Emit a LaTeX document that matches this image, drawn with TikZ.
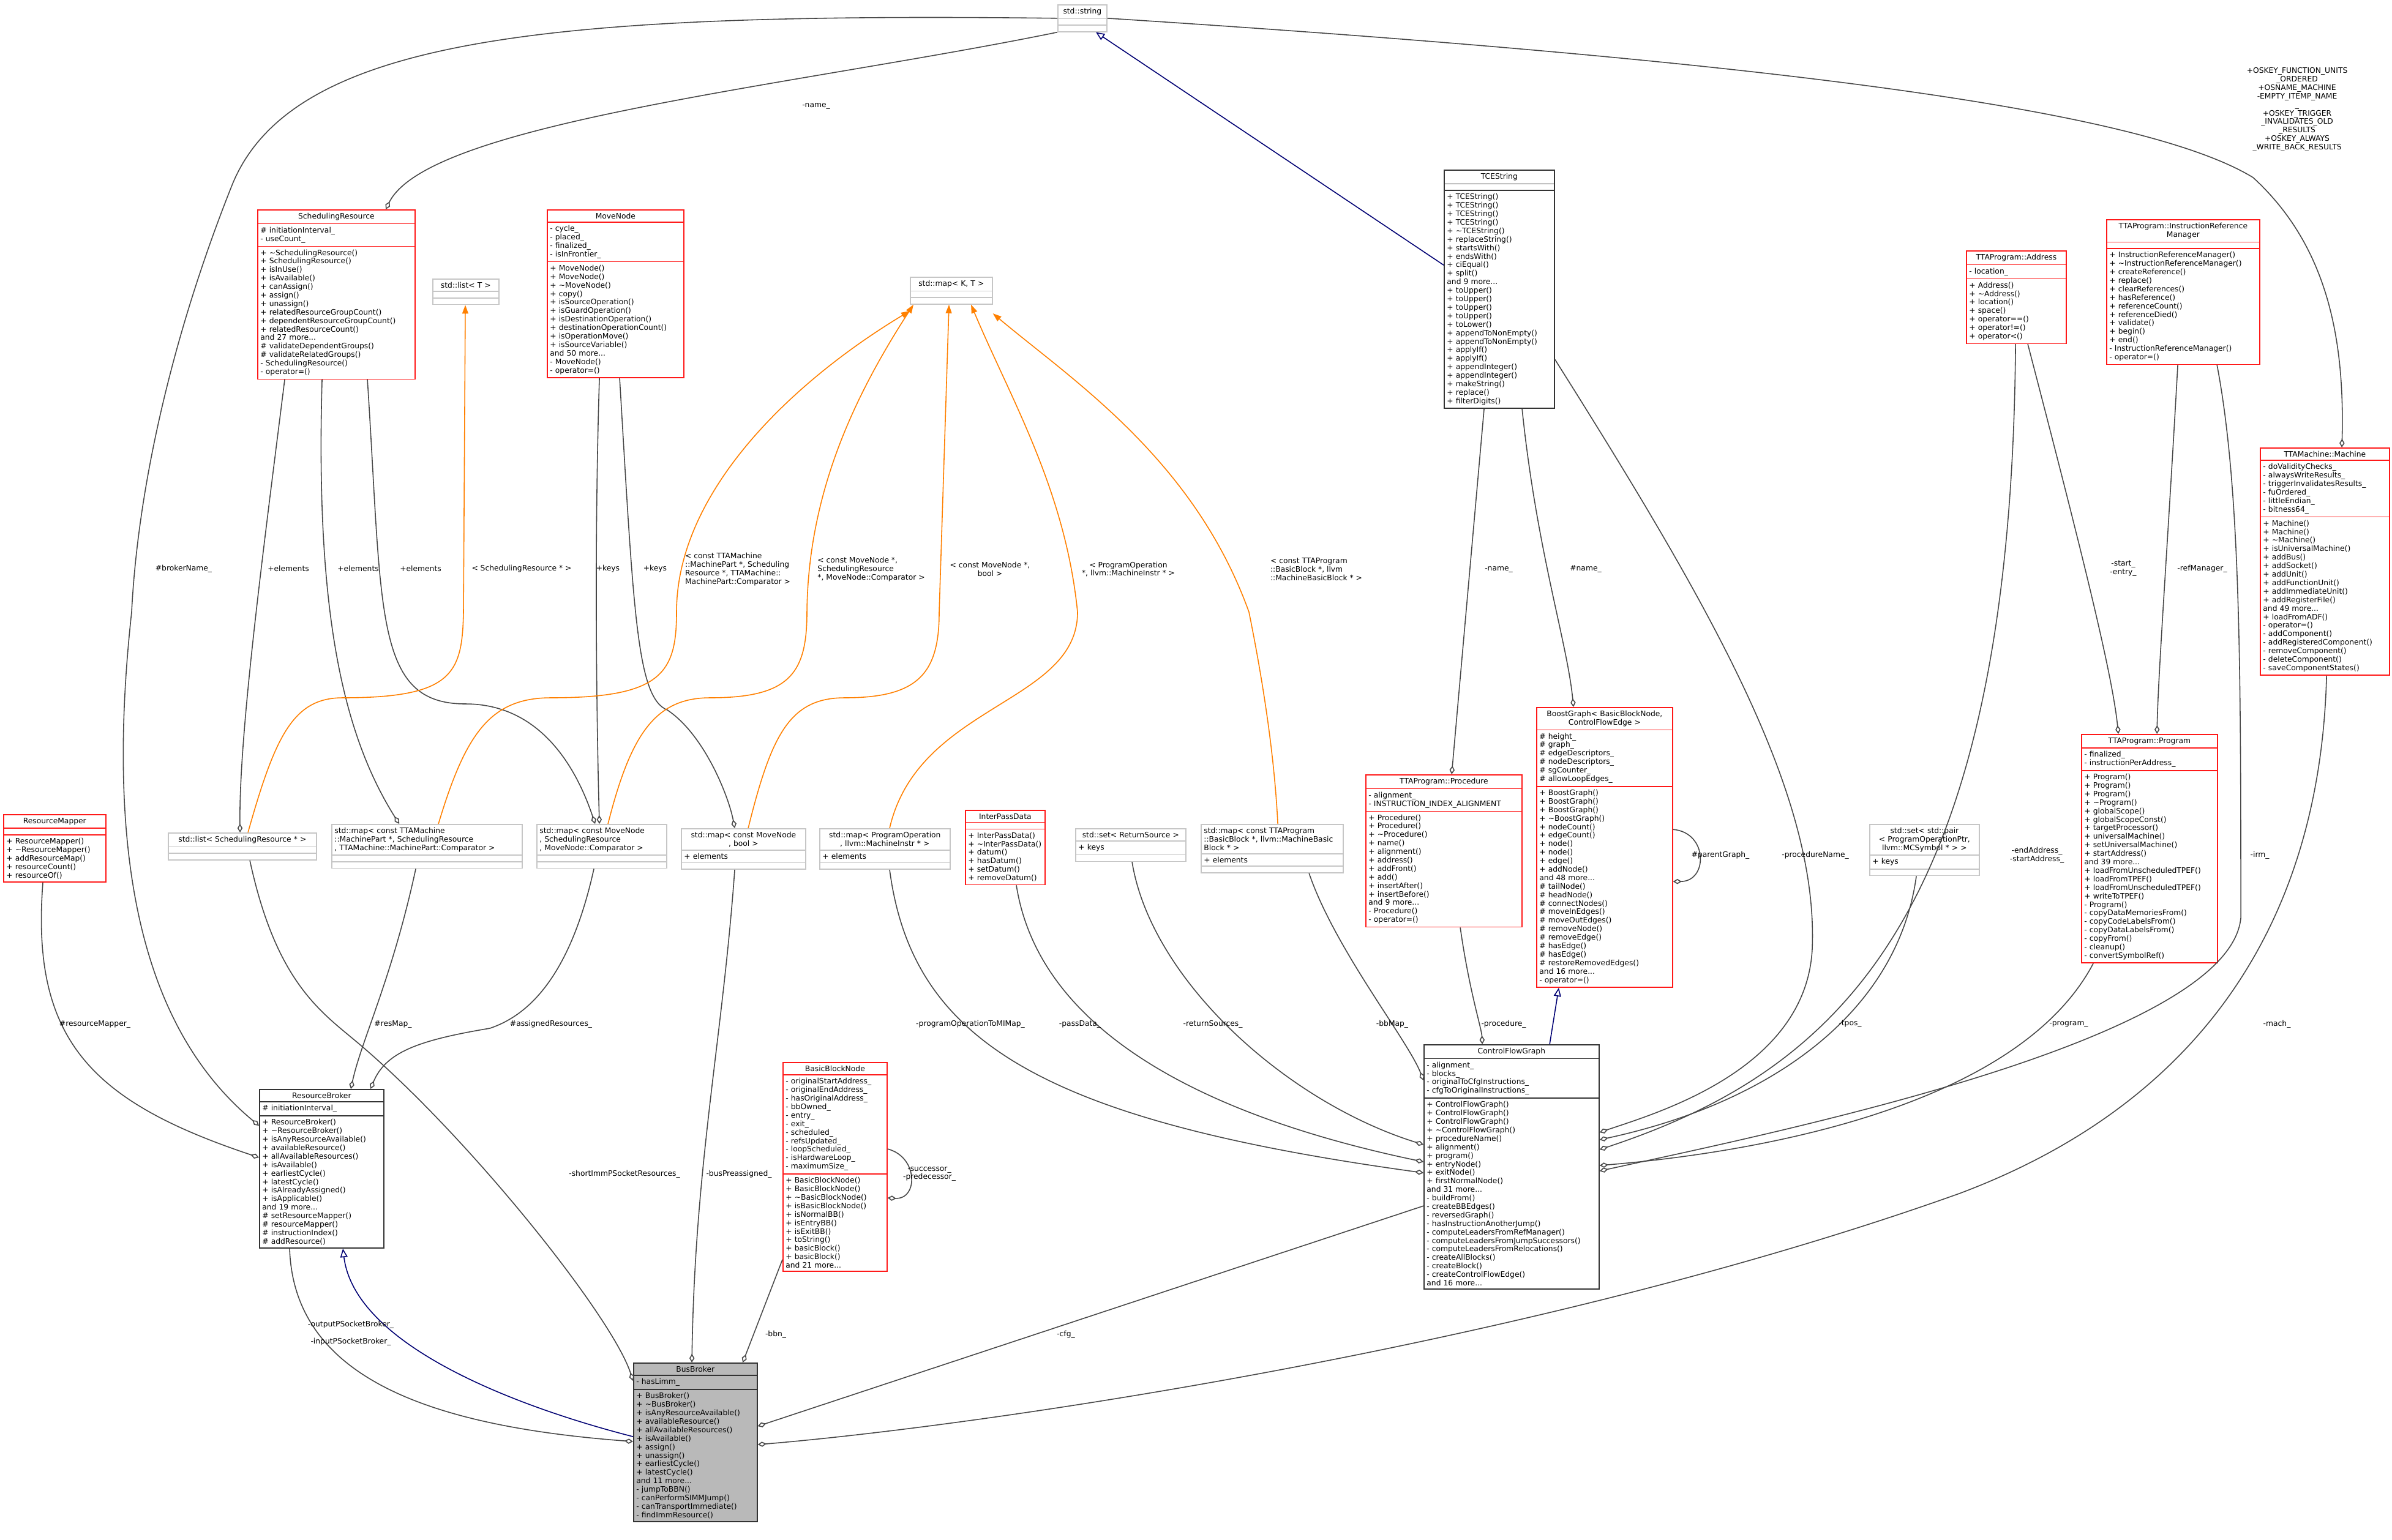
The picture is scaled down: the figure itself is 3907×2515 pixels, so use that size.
\documentclass[tikz,border=0pt]{standalone}
\usepackage{fontspec}
\setmainfont{DejaVu Sans}
\usetikzlibrary{arrows.meta}
\usetikzlibrary{shapes.multipart}
\usetikzlibrary{positioning}
\newcommand{\ctitle}[1]{\parbox{\linewidth}{\centering #1}}

\begin{document}
\begin{tikzpicture}[x=0.01cm,y=0.01cm,
  every node/.style={font=\fontsize{3.5}{3.95}\selectfont},
  ClassStyle/.style={rectangle split, rectangle split parts=3, draw, anchor=north west,
    align=left, inner sep=1.3pt,
    rectangle split empty part height=1.1mm, line width=0.45pt},
  RedClass/.style={ClassStyle, draw=red!90},
  GrayClass/.style={ClassStyle, draw=gray!45},
  DarkClass/.style={ClassStyle, draw=black!80},
  MemberEdge/.style={draw=black!72, line width=0.45pt, -{Diamond[open,length=4pt,width=2.4pt]}},
  TemplEdge/.style={draw=orange, line width=0.45pt, -{Triangle[length=4pt,width=2.8pt]}},
  InhEdge/.style={draw=blue!45!black, line width=0.45pt, -{Triangle[open,length=4pt,width=3.4pt]}},
  EdgeLabel/.style={inner sep=0pt, align=center}]

\fill[white] (0,0) rectangle (3907,-2515);
\useasboundingbox (0,0) rectangle (3907,-2515);

% classes, top row
\node[GrayClass, text width=0.8cm-2.6pt] (str) at (1727,-7) {\ctitle{std::string}\nodepart{second}\nodepart{third}};
\node[RedClass, text width=2.57cm-2.6pt] (sres) at (420,-342) {\ctitle{SchedulingResource}
  \nodepart{second}\# initiationInterval\_\\- useCount\_
  \nodepart{third}+ \textasciitilde SchedulingResource()\\+ SchedulingResource()\\+ isInUse()\\+ isAvailable()\\+ canAssign()\\+ assign()\\+ unassign()\\+ relatedResourceGroupCount()\\+ dependentResourceGroupCount()\\+ relatedResourceCount()\\and 27 more...\\\# validateDependentGroups()\\\# validateRelatedGroups()\\- SchedulingResource()\\- operator=()};
\node[GrayClass, text width=1.08cm-2.6pt] (stdlist) at (706,-455) {\ctitle{std::list\textless{} T \textgreater}\nodepart{second}\nodepart{third}};
\node[RedClass, text width=2.23cm-2.6pt] (mnode) at (893,-342) {\ctitle{MoveNode}
  \nodepart{second}- cycle\_\\- placed\_\\- finalized\_\\- isInFrontier\_
  \nodepart{third}+ MoveNode()\\+ MoveNode()\\+ \textasciitilde MoveNode()\\+ copy()\\+ isSourceOperation()\\+ isGuardOperation()\\+ isDestinationOperation()\\+ destinationOperationCount()\\+ isOperationMove()\\+ isSourceVariable()\\and 50 more...\\- MoveNode()\\- operator=()};
\node[GrayClass, text width=1.34cm-2.6pt] (stdmap) at (1486,-452) {\ctitle{std::map\textless{} K, T \textgreater}\nodepart{second}\nodepart{third}};
\node[DarkClass, text width=1.8cm-2.6pt] (tce) at (2358,-277) {\ctitle{TCEString}
  \nodepart{second}
  \nodepart{third}+ TCEString()\\+ TCEString()\\+ TCEString()\\+ TCEString()\\+ \textasciitilde TCEString()\\+ replaceString()\\+ startsWith()\\+ endsWith()\\+ ciEqual()\\+ split()\\and 9 more...\\+ toUpper()\\+ toUpper()\\+ toUpper()\\+ toUpper()\\+ toLower()\\+ appendToNonEmpty()\\+ appendToNonEmpty()\\+ applyIf()\\+ applyIf()\\+ appendInteger()\\+ appendInteger()\\+ makeString()\\+ replace()\\+ filterDigits()};
\node[RedClass, text width=1.63cm-2.6pt] (addr) at (3211,-409) {\ctitle{TTAProgram::Address}
  \nodepart{second}- location\_
  \nodepart{third}+ Address()\\+ \textasciitilde Address()\\+ location()\\+ space()\\+ operator==()\\+ operator!=()\\+ operator\textless()};
\node[RedClass, text width=2.5cm-2.6pt] (irm) at (3440,-358) {\ctitle{TTAProgram::InstructionReference\\Manager}
  \nodepart{second}
  \nodepart{third}+ InstructionReferenceManager()\\+ \textasciitilde InstructionReferenceManager()\\+ createReference()\\+ replace()\\+ clearReferences()\\+ hasReference()\\+ referenceCount()\\+ referenceDied()\\+ validate()\\+ begin()\\+ end()\\- InstructionReferenceManager()\\- operator=()};
\node[RedClass, text width=2.11cm-2.6pt] (mach) at (3691,-731) {\ctitle{TTAMachine::Machine}
  \nodepart{second}- doValidityChecks\_\\- alwaysWriteResults\_\\- triggerInvalidatesResults\_\\- fuOrdered\_\\- littleEndian\_\\- bitness64\_
  \nodepart{third}+ Machine()\\+ Machine()\\+ \textasciitilde Machine()\\+ isUniversalMachine()\\+ addBus()\\+ addSocket()\\+ addUnit()\\+ addFunctionUnit()\\+ addImmediateUnit()\\+ addRegisterFile()\\and 49 more...\\+ loadFromADF()\\- operator=()\\- addComponent()\\- addRegisteredComponent()\\- removeComponent()\\- deleteComponent()\\- saveComponentStates()};

% classes, middle row
\node[RedClass, text width=1.67cm-2.6pt] (rmap) at (5,-1330) {\ctitle{ResourceMapper}
  \nodepart{second}
  \nodepart{third}+ ResourceMapper()\\+ \textasciitilde ResourceMapper()\\+ addResourceMap()\\+ resourceCount()\\+ resourceOf()};
\node[GrayClass, text width=2.42cm-2.6pt] (srlist) at (274,-1360) {\ctitle{std::list\textless{} SchedulingResource * \textgreater}\nodepart{second}\nodepart{third}};
\node[GrayClass, text width=3.11cm-2.6pt] (mpmap) at (541,-1346) {std::map\textless{} const TTAMachine\\::MachinePart *, SchedulingResource\\ *, TTAMachine::MachinePart::Comparator \textgreater\nodepart{second}\nodepart{third}};
\node[GrayClass, text width=2.12cm-2.6pt] (mnsrmap) at (876,-1346) {std::map\textless{} const MoveNode\\ *, SchedulingResource\\ *, MoveNode::Comparator \textgreater\nodepart{second}\nodepart{third}};
\node[GrayClass, text width=2.03cm-2.6pt] (mnbmap) at (1112,-1353) {\ctitle{std::map\textless{} const MoveNode\\ *, bool \textgreater}\nodepart{second}+ elements\nodepart{third}};
\node[GrayClass, text width=2.13cm-2.6pt] (pomap) at (1338,-1353) {\ctitle{std::map\textless{} ProgramOperation\\ *, llvm::MachineInstr * \textgreater}\nodepart{second}+ elements\nodepart{third}};
\node[RedClass, text width=1.3cm-2.6pt] (ipd) at (1576,-1323) {\ctitle{InterPassData}
  \nodepart{second}
  \nodepart{third}+ InterPassData()\\+ \textasciitilde InterPassData()\\+ datum()\\+ hasDatum()\\+ setDatum()\\+ removeDatum()};
\node[GrayClass, text width=1.8cm-2.6pt] (rsset) at (1756,-1353) {\ctitle{std::set\textless{} ReturnSource \textgreater}\nodepart{second}+ keys\nodepart{third}};
\node[GrayClass, text width=2.32cm-2.6pt] (bbmap) at (1961,-1346) {std::map\textless{} const TTAProgram\\::BasicBlock *, llvm::MachineBasic\\Block * \textgreater\nodepart{second}+ elements\nodepart{third}};
\node[RedClass, text width=2.55cm-2.6pt] (proc) at (2230,-1265) {\ctitle{TTAProgram::Procedure}
  \nodepart{second}- alignment\_\\- INSTRUCTION\_INDEX\_ALIGNMENT
  \nodepart{third}+ Procedure()\\+ Procedure()\\+ \textasciitilde Procedure()\\+ name()\\+ alignment()\\+ address()\\+ addFront()\\+ add()\\+ insertAfter()\\+ insertBefore()\\and 9 more...\\- Procedure()\\- operator=()};
\node[RedClass, text width=2.22cm-2.6pt] (bgraph) at (2509,-1155) {\ctitle{BoostGraph\textless{} BasicBlockNode,\\ControlFlowEdge \textgreater}
  \nodepart{second}\# height\_\\\# graph\_\\\# edgeDescriptors\_\\\# nodeDescriptors\_\\\# sgCounter\_\\\# allowLoopEdges\_
  \nodepart{third}+ BoostGraph()\\+ BoostGraph()\\+ BoostGraph()\\+ \textasciitilde BoostGraph()\\+ nodeCount()\\+ edgeCount()\\+ node()\\+ node()\\+ edge()\\+ addNode()\\and 48 more...\\\# tailNode()\\\# headNode()\\\# connectNodes()\\\# moveInEdges()\\\# moveOutEdges()\\\# removeNode()\\\# removeEdge()\\\# hasEdge()\\\# hasEdge()\\\# restoreRemovedEdges()\\and 16 more...\\- operator=()};
\node[GrayClass, text width=1.79cm-2.6pt] (tposset) at (3053,-1346) {\ctitle{std::set\textless{} std::pair\\\textless{} ProgramOperationPtr,\\ llvm::MCSymbol * \textgreater{} \textgreater}\nodepart{second}+ keys\nodepart{third}};
\node[RedClass, text width=2.22cm-2.6pt] (prog) at (3399,-1199) {\ctitle{TTAProgram::Program}
  \nodepart{second}- finalized\_\\- instructionPerAddress\_
  \nodepart{third}+ Program()\\+ Program()\\+ Program()\\+ \textasciitilde Program()\\+ globalScope()\\+ globalScopeConst()\\+ targetProcessor()\\+ universalMachine()\\+ setUniversalMachine()\\+ startAddress()\\and 39 more...\\+ loadFromUnscheduledTPEF()\\+ loadFromTPEF()\\+ loadFromUnscheduledTPEF()\\+ writeToTPEF()\\- Program()\\- copyDataMemoriesFrom()\\- copyCodeLabelsFrom()\\- copyDataLabelsFrom()\\- copyFrom()\\- cleanup()\\- convertSymbolRef()};

% classes, bottom row
\node[DarkClass, text width=2.03cm-2.6pt] (rbroker) at (423,-1779) {\ctitle{ResourceBroker}
  \nodepart{second}\# initiationInterval\_
  \nodepart{third}+ ResourceBroker()\\+ \textasciitilde ResourceBroker()\\+ isAnyResourceAvailable()\\+ availableResource()\\+ allAvailableResources()\\+ isAvailable()\\+ earliestCycle()\\+ latestCycle()\\+ isAlreadyAssigned()\\+ isApplicable()\\and 19 more...\\\# setResourceMapper()\\\# resourceMapper()\\\# instructionIndex()\\\# addResource()};
\node[RedClass, text width=1.7cm-2.6pt] (bbn) at (1278,-1735) {\ctitle{BasicBlockNode}
  \nodepart{second}- originalStartAddress\_\\- originalEndAddress\_\\- hasOriginalAddress\_\\- bbOwned\_\\- entry\_\\- exit\_\\- scheduled\_\\- refsUpdated\_\\- loopScheduled\_\\- isHardwareLoop\_\\- maximumSize\_
  \nodepart{third}+ BasicBlockNode()\\+ BasicBlockNode()\\+ \textasciitilde BasicBlockNode()\\+ isBasicBlockNode()\\+ isNormalBB()\\+ isEntryBB()\\+ isExitBB()\\+ toString()\\+ basicBlock()\\+ basicBlock()\\and 21 more...};
\node[DarkClass, fill=gray!55, text width=2.02cm-2.6pt] (bbroker) at (1034,-2226) {\ctitle{BusBroker}
  \nodepart{second}- hasLimm\_
  \nodepart{third}+ BusBroker()\\+ \textasciitilde BusBroker()\\+ isAnyResourceAvailable()\\+ availableResource()\\+ allAvailableResources()\\+ isAvailable()\\+ assign()\\+ unassign()\\+ earliestCycle()\\+ latestCycle()\\and 11 more...\\- jumpToBBN()\\- canPerformSIMMJump()\\- canTransportImmediate()\\- findImmResource()};
\node[DarkClass, text width=2.86cm-2.6pt] (cfg) at (2325,-1706) {\ctitle{ControlFlowGraph}
  \nodepart{second}- alignment\_\\- blocks\_\\- originalToCfgInstructions\_\\- cfgToOriginalInstructions\_
  \nodepart{third}+ ControlFlowGraph()\\+ ControlFlowGraph()\\+ ControlFlowGraph()\\+ \textasciitilde ControlFlowGraph()\\+ procedureName()\\+ alignment()\\+ program()\\+ entryNode()\\+ exitNode()\\+ firstNormalNode()\\and 31 more...\\- buildFrom()\\- createBBEdges()\\- reversedGraph()\\- hasInstructionAnotherJump()\\- computeLeadersFromRefManager()\\- computeLeadersFromJumpSuccessors()\\- computeLeadersFromRelocations()\\- createAllBlocks()\\- createBlock()\\- createControlFlowEdge()\\and 16 more...};

% edges from std::string
\draw[MemberEdge] (str.west) .. controls (900,-20) and (480,-60) .. (380,-300) .. controls (280,-550) and (225,-800) .. (215,-1000) .. controls (160,-1500) and (280,-1720) .. ([yshift=-0.6cm]rbroker.north west);
\draw[MemberEdge] (str.south west) .. controls (1300,-140) and (700,-200) .. ([xshift=2.1cm]sres.north west);
\draw[InhEdge] ([yshift=-1.56cm]tce.north west) -- ([xshift=0.63cm]str.south west);
\draw[MemberEdge] (str.east) .. controls (2900,-100) and (3500,-180) .. (3680,-290) .. controls (3800,-400) and (3830,-550) .. ([xshift=1.34cm]mach.north west);

% members of the containers
\draw[MemberEdge] ([xshift=0.45cm]sres.south west) .. controls (430,-900) and (390,-1200) .. ([xshift=1.18cm]srlist.north west);
\draw[MemberEdge] ([xshift=1.06cm]sres.south west) .. controls (515,-1000) and (560,-1200) .. ([xshift=1.11cm]mpmap.north west);
\draw[MemberEdge] ([xshift=1.8cm]sres.south west) .. controls (625,-1000) and (610,-1150) .. (760,-1150) .. controls (880,-1150) and (940,-1250) .. ([xshift=0.96cm]mnsrmap.north west);
\draw[MemberEdge] ([xshift=0.86cm]mnode.south west) .. controls (970,-900) and (975,-1200) .. ([xshift=1.03cm]mnsrmap.north west);
\draw[MemberEdge] ([xshift=1.19cm]mnode.south west) .. controls (1035,-1000) and (1040,-1140) .. (1090,-1160) .. controls (1150,-1200) and (1190,-1300) .. ([xshift=0.88cm]mnbmap.north west);

% template instances
\draw[TemplEdge] ([xshift=1.31cm]srlist.north west) .. controls (450,-1200) and (480,-1140) .. (560,-1140) .. controls (740,-1140) and (755,-1100) .. (757,-1000) -- ([xshift=0.54cm]stdlist.south west);
\draw[TemplEdge] ([xshift=1.75cm]mpmap.north west) .. controls (760,-1200) and (800,-1140) .. (900,-1140) .. controls (1080,-1140) and (1105,-1100) .. (1105,-1000) .. controls (1105,-800) and (1300,-620) .. ([yshift=-0.56cm]stdmap.north west);
\draw[TemplEdge] ([xshift=1.17cm]mnsrmap.north west) .. controls (1030,-1200) and (1070,-1140) .. (1160,-1140) .. controls (1290,-1140) and (1318,-1100) .. (1318,-1000) .. controls (1320,-800) and (1400,-640) .. ([xshift=0.06cm]stdmap.south west);
\draw[TemplEdge] ([xshift=1.1cm]mnbmap.north west) .. controls (1260,-1200) and (1290,-1140) .. (1380,-1140) .. controls (1500,-1140) and (1534,-1100) .. (1534,-1000) -- ([xshift=0.64cm]stdmap.south west);
\draw[TemplEdge] ([xshift=1.15cm]pomap.north west) .. controls (1500,-1150) and (1760,-1150) .. (1760,-1000) .. controls (1740,-800) and (1650,-650) .. ([xshift=1.0cm]stdmap.south west);
\draw[TemplEdge] ([xshift=1.26cm]bbmap.north west) .. controls (2080,-1200) and (2050,-1050) .. (2040,-1000) .. controls (1950,-750) and (1750,-620) .. ([yshift=-0.6cm]stdmap.north east);

% members of the brokers
\draw[MemberEdge] ([xshift=0.65cm]rmap.south west) .. controls (50,-1700) and (150,-1800) .. ([yshift=-1.12cm]rbroker.north west);
\draw[MemberEdge] ([xshift=1.38cm]mpmap.south west) .. controls (640,-1600) and (590,-1700) .. ([xshift=1.5cm]rbroker.north west);
\draw[MemberEdge] ([xshift=0.94cm]mnsrmap.south west) .. controls (930,-1600) and (860,-1660) .. (800,-1680) .. controls (680,-1700) and (630,-1720) .. ([xshift=1.82cm]rbroker.north west);
\draw[MemberEdge] ([xshift=1.34cm]srlist.south west) .. controls (450,-1600) and (520,-1650) .. (580,-1700) .. controls (760,-1850) and (1000,-2150) .. ([yshift=-0.3cm]bbroker.north west);
\draw[MemberEdge] ([xshift=0.88cm]mnbmap.south west) .. controls (1180,-1700) and (1135,-1900) .. ([xshift=0.96cm]bbroker.north west);
\draw[MemberEdge] ([yshift=0.2cm]bbn.south west) -- ([xshift=1.79cm]bbroker.north west);
\draw[MemberEdge] ([yshift=-1.42cm]bbn.north east) .. controls (1500,-1890) and (1500,-1960) .. ([yshift=-2.22cm]bbn.north east);
\draw[MemberEdge] ([xshift=0.5cm]rbroker.south west) .. controls (480,-2250) and (700,-2330) .. ([yshift=-1.29cm]bbroker.north west);
\draw[InhEdge] ([yshift=-1.21cm]bbroker.north west) .. controls (850,-2300) and (580,-2200) .. ([xshift=1.37cm]rbroker.south west);
\draw[MemberEdge] ([yshift=-2.64cm]cfg.north west) -- ([yshift=-1.04cm]bbroker.north east);
\draw[MemberEdge] ([xshift=1.09cm]mach.south west) .. controls (3790,-1500) and (3600,-1800) .. (3200,-1950) .. controls (2500,-2200) and (1600,-2330) .. ([yshift=-1.34cm]bbroker.north east);

% members of the graph classes
\draw[MemberEdge] ([xshift=0.66cm]tce.south west) -- ([xshift=1.41cm]proc.north west);
\draw[MemberEdge] ([xshift=1.28cm]tce.south west) .. controls (2510,-900) and (2560,-1050) .. ([xshift=0.61cm]bgraph.north west);
\draw[MemberEdge] ([yshift=-3.1cm]tce.north east) .. controls (2800,-1000) and (2970,-1300) .. (2960,-1550) .. controls (2950,-1750) and (2700,-1820) .. ([yshift=-1.44cm]cfg.north east);
\draw[MemberEdge] ([xshift=0.81cm]addr.south west) .. controls (3285,-1500) and (3000,-1750) .. ([yshift=-1.72cm]cfg.north east);
\draw[MemberEdge] ([xshift=1.01cm]addr.south west) .. controls (3400,-900) and (3450,-1100) .. ([xshift=0.61cm]prog.north west);
\draw[MemberEdge] ([xshift=1.17cm]irm.south west) .. controls (3540,-900) and (3525,-1100) .. ([xshift=1.24cm]prog.north west);
\draw[MemberEdge] ([xshift=1.81cm]irm.south west) .. controls (3660,-800) and (3660,-1100) .. (3660,-1500) .. controls (3640,-1700) and (2900,-1850) .. ([yshift=-2.07cm]cfg.north east);
\draw[MemberEdge] ([xshift=0.2cm]prog.south west) .. controls (3300,-1800) and (2900,-1880) .. ([yshift=-1.98cm]cfg.north east);
\draw[MemberEdge] ([xshift=0.77cm]tposset.south west) .. controls (3100,-1650) and (2900,-1800) .. ([yshift=-1.56cm]cfg.north east);
\draw[InhEdge] ([xshift=2.06cm]cfg.north west) -- ([xshift=0.37cm]bgraph.south west);
\draw[MemberEdge] ([yshift=-2.0cm]bgraph.north east) .. controls (2790,-1360) and (2790,-1440) .. ([yshift=-2.85cm]bgraph.north east);
\draw[MemberEdge] ([xshift=1.55cm]proc.south west) .. controls (2400,-1620) and (2420,-1680) .. ([xshift=0.96cm]cfg.north west);
\draw[MemberEdge] ([xshift=1.77cm]bbmap.south west) .. controls (2180,-1550) and (2300,-1700) .. ([yshift=-0.59cm]cfg.north west);
\draw[MemberEdge] ([xshift=0.93cm]rsset.south west) .. controls (1880,-1600) and (2100,-1800) .. ([yshift=-1.64cm]cfg.north west);
\draw[MemberEdge] ([xshift=0.84cm]ipd.south west) .. controls (1700,-1700) and (2000,-1830) .. ([yshift=-1.92cm]cfg.north west);
\draw[MemberEdge] ([xshift=1.15cm]pomap.south west) .. controls (1490,-1700) and (1700,-1830) .. ([yshift=-2.1cm]cfg.north west);

% edge labels
\node[EdgeLabel] (lbroker) at (300,-929) {\#brokerName\_};
\node[EdgeLabel] (lsrname) at (1333,-174) {-name\_};
\node[EdgeLabel] (lkeys) at (3752,-179) {+OSKEY\_FUNCTION\_UNITS\\\_ORDERED\\+OSNAME\_MACHINE\\-EMPTY\_ITEMP\_NAME\\\_\\+OSKEY\_TRIGGER\\\_INVALIDATES\_OLD\\\_RESULTS\\+OSKEY\_ALWAYS\\\_WRITE\_BACK\_RESULTS};
\node[EdgeLabel] (lelem1) at (471,-929) {+elements};
\node[EdgeLabel] (lelem2) at (585,-929) {+elements};
\node[EdgeLabel] (lelem3) at (687,-929) {+elements};
\node[EdgeLabel] (lsrlist) at (852,-929) {\textless{} SchedulingResource * \textgreater};
\node[EdgeLabel] (lkeys1) at (993,-929) {+keys};
\node[EdgeLabel] (lkeys2) at (1070,-929) {+keys};
\node[EdgeLabel, align=left] (lmpmap) at (1205,-930) {\textless{} const TTAMachine\\::MachinePart *, Scheduling\\Resource *, TTAMachine::\\MachinePart::Comparator \textgreater};
\node[EdgeLabel, align=left] (lmnsr) at (1423,-930) {\textless{} const MoveNode *,\\SchedulingResource\\*, MoveNode::Comparator \textgreater};
\node[EdgeLabel] (lmnb) at (1617,-930) {\textless{} const MoveNode *,\\bool \textgreater};
\node[EdgeLabel] (lpo) at (1843,-930) {\textless{} ProgramOperation\\*, llvm::MachineInstr * \textgreater};
\node[EdgeLabel, align=left] (lbb) at (2150,-930) {\textless{} const TTAProgram\\::BasicBlock *, llvm\\::MachineBasicBlock * \textgreater};
\node[EdgeLabel] (lpname) at (2448,-930) {-name\_};
\node[EdgeLabel] (lbname) at (2590,-930) {\#name\_};
\node[EdgeLabel] (lstart) at (3468,-929) {-start\_\\-entry\_};
\node[EdgeLabel] (lref) at (3597,-929) {-refManager\_};
\node[EdgeLabel] (lparent) at (2810,-1397) {\#parentGraph\_};
\node[EdgeLabel] (lprocname) at (2965,-1397) {-procedureName\_};
\node[EdgeLabel] (lend) at (3327,-1397) {-endAddress\_\\-startAddress\_};
\node[EdgeLabel] (lirm) at (3691,-1397) {-irm\_};
\node[EdgeLabel] (lresmapper) at (155,-1673) {\#resourceMapper\_};
\node[EdgeLabel] (lresmap) at (642,-1673) {\#resMap\_};
\node[EdgeLabel] (lassigned) at (900,-1673) {\#assignedResources\_};
\node[EdgeLabel] (lpomi) at (1585,-1673) {-programOperationToMIMap\_};
\node[EdgeLabel] (lpass) at (1764,-1673) {-passData\_};
\node[EdgeLabel] (lret) at (1981,-1673) {-returnSources\_};
\node[EdgeLabel] (lbbmap) at (2274,-1673) {-bbMap\_};
\node[EdgeLabel] (lproc) at (2456,-1673) {-procedure\_};
\node[EdgeLabel] (ltpos) at (3022,-1673) {-tpos\_};
\node[EdgeLabel] (lprog) at (3379,-1673) {-program\_};
\node[EdgeLabel] (lmach) at (3719,-1673) {-mach\_};
\node[EdgeLabel] (lshort) at (1020,-1918) {-shortImmPSocketResources\_};
\node[EdgeLabel] (lbusp) at (1207,-1918) {-busPreassigned\_};
\node[EdgeLabel] (lsucc) at (1518,-1918) {-successor\_\\-predecessor\_};
\node[EdgeLabel] (lbbn) at (1267,-2180) {-bbn\_};
\node[EdgeLabel] (lcfg) at (1741,-2180) {-cfg\_};
\node[EdgeLabel] (lpsock) at (573,-2178) {-outputPSocketBroker\_\\\\-inputPSocketBroker\_};
\end{tikzpicture}
\end{document}
